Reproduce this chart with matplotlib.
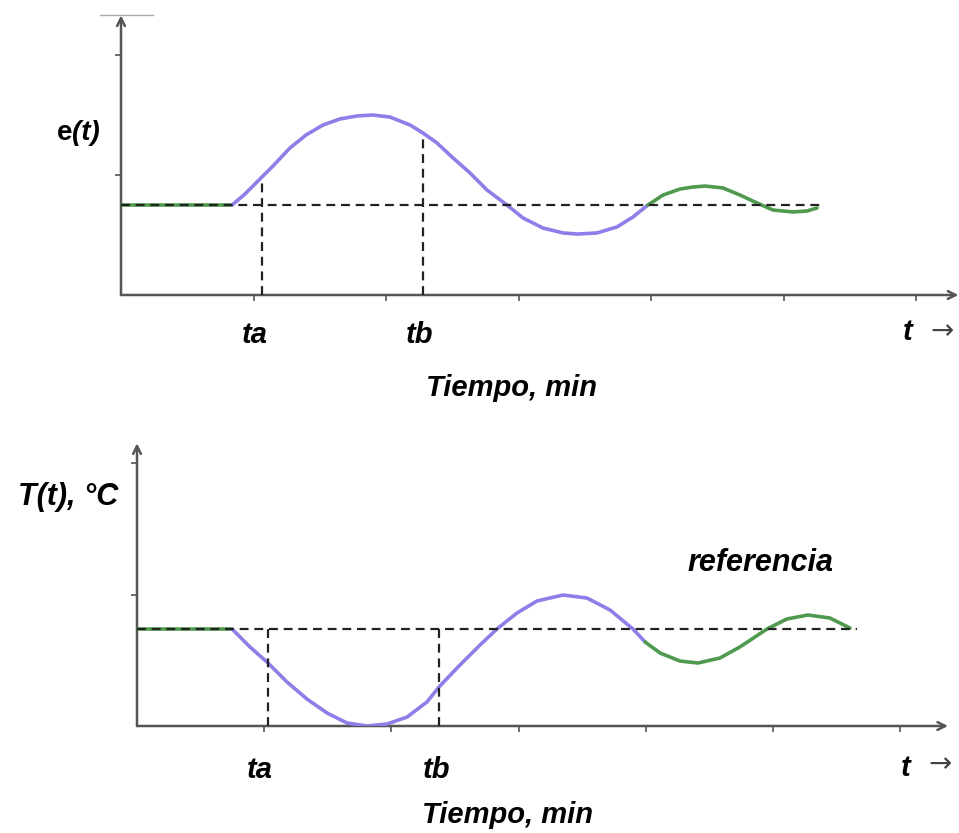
import matplotlib
matplotlib.use("Agg")
import matplotlib.pyplot as plt
from matplotlib.lines import Line2D

# --- top panel: e(t) ---
e_ref = 0.75
e_flat_x = [0.0, 0.838]
e_up_x = [0.838, 0.936, 1.026, 1.147, 1.275, 1.396, 1.525, 1.653, 1.781,
          1.902, 2.030, 2.181, 2.279, 2.385, 2.506, 2.634, 2.762, 2.913,
          3.034, 3.185, 3.336, 3.442, 3.592, 3.743, 3.864, 3.977]
e_up_y = [0.75, 0.842, 0.942, 1.075, 1.225, 1.333, 1.417, 1.467, 1.492,
          1.50, 1.483, 1.417, 1.35, 1.267, 1.142, 1.017, 0.875, 0.75,
          0.642, 0.558, 0.517, 0.508, 0.517, 0.567, 0.65, 0.75]
e_end_x = [3.977, 4.091, 4.219, 4.317, 4.408, 4.543, 4.672, 4.800, 4.921,
           5.072, 5.177, 5.253]
e_end_y = [0.75, 0.833, 0.883, 0.90, 0.908, 0.892, 0.833, 0.767, 0.708,
           0.692, 0.70, 0.725]
e_ta, e_tb = 1.064, 2.279
e_ta_y, e_tb_y = 0.975, 1.31
e_ref_end = 5.29

# --- bottom panel: T(t) ---
T_ref = 0.738
T_flat_x = [0.0, 0.747]
T_mid_x = [0.747, 0.888, 1.030, 1.179, 1.336, 1.494, 1.651, 1.808, 1.965,
           2.123, 2.280, 2.374, 2.539, 2.697, 2.830, 2.987, 3.145, 3.349,
           3.538, 3.719, 3.899, 3.994]
T_mid_y = [0.738, 0.601, 0.479, 0.335, 0.205, 0.099, 0.023, 0.0, 0.015,
           0.068, 0.183, 0.297, 0.464, 0.616, 0.738, 0.859, 0.951, 0.996,
           0.973, 0.882, 0.738, 0.639]
T_end_x = [3.994, 4.112, 4.269, 4.410, 4.583, 4.740, 4.953, 5.110, 5.275,
           5.448, 5.605]
T_end_y = [0.639, 0.555, 0.494, 0.479, 0.517, 0.601, 0.738, 0.814, 0.844,
           0.821, 0.745]
T_ta, T_tb = 1.030, 2.374
T_ref_end = 5.66

W, H = 959, 833
purple = "#8c7fe8"
green = "#4f9a4f"
axcol = "#555555"
font = dict(family="Liberation Sans", weight="bold", style="italic")


def fxy(px, py):
    return px / W, 1 - py / H


fig = plt.figure(figsize=(W / 100, H / 100), dpi=100)
ax1 = fig.add_axes([121 / W, 1 - 295 / H, 6.35 * 132.5 / W, 2.4 * 120 / H])
ax2 = fig.add_axes([137 / W, 1 - 726 / H, 6.45 * 127.2 / W, 2.2 * 131.5 / H])


def base(ax, xmax, ymax, xarrow, yarrow):
    ax.set_xlim(0, xmax)
    ax.set_ylim(0, ymax)
    for s in ax.spines.values():
        s.set_visible(False)
    ax.set_xticks(range(1, 7))
    ax.set_yticks([1, 2])
    ax.tick_params(length=4, width=1.2, color=axcol, direction="out",
                   labelbottom=False, labelleft=False)
    arrow = dict(arrowstyle="->", color=axcol, lw=1.8, shrinkA=0, shrinkB=0,
                 mutation_scale=14)
    ax.annotate("", xy=(xarrow, 0), xytext=(0, 0), arrowprops=arrow,
                annotation_clip=False)
    ax.annotate("", xy=(0, yarrow), xytext=(0, 0), arrowprops=arrow,
                annotation_clip=False)


dash = dict(color="#222222", lw=1.6, dashes=(4, 2.6), zorder=4)
curve = dict(lw=2.6, zorder=3, solid_joinstyle="round",
             solid_capstyle="round")

# top
base(ax1, 6.35, 2.4, 6.32, 2.33)
ax1.plot(e_flat_x, [e_ref, e_ref], color=green, **curve)
ax1.plot(e_up_x, e_up_y, color=purple, **curve)
ax1.plot(e_end_x, e_end_y, color=green, **curve)
ax1.plot([0, e_ref_end], [e_ref, e_ref], **dash)
ax1.plot([e_ta, e_ta], [0, e_ta_y], **dash)
ax1.plot([e_tb, e_tb], [0, e_tb_y], **dash)

# bottom
base(ax2, 6.45, 2.2, 6.376, 2.15)
ax2.plot(T_flat_x, [T_ref, T_ref], color=green, **curve)
ax2.plot(T_mid_x, T_mid_y, color=purple, **curve)
ax2.plot(T_end_x, T_end_y, color=green, **curve)
ax2.plot([0, T_ref_end], [T_ref, T_ref], **dash)
ax2.plot([T_ta, T_ta], [0, T_ref], **dash)
ax2.plot([T_tb, T_tb], [0, T_ref], **dash)

# stray grey rule at the top left
fig.add_artist(Line2D([100 / W, 153 / W], [1 - 15 / H, 1 - 15 / H],
                      color="#aaaaaa", lw=1))

# labels
fs = 21
fig.text(*fxy(72, 133), "e", fontsize=20, family="Liberation Sans",
         weight="bold", ha="right", va="center")
fig.text(*fxy(72, 133), "(t)", fontsize=20, ha="left", va="center", **font)
fig.text(*fxy(255, 335), "ta", fontsize=fs, ha="center", va="center", **font)
fig.text(*fxy(420, 335), "tb", fontsize=fs, ha="center", va="center", **font)
fig.text(*fxy(908, 332), "t", fontsize=fs, ha="center", va="center", **font)
fig.text(*fxy(942, 331), "\u2192", fontsize=20, color="#444444",
         ha="center", va="center", family="DejaVu Sans")
fig.text(*fxy(512, 388), "Tiempo, min", fontsize=fs, ha="center",
         va="center", **font)

fig.text(*fxy(68, 497), "T(t), \u00b0C", fontsize=22, ha="center",
         va="center", **font)
fig.text(*fxy(760, 563), "referencia", fontsize=22, ha="center",
         va="center", **font)
fig.text(*fxy(260, 770), "ta", fontsize=fs, ha="center", va="center", **font)
fig.text(*fxy(437, 770), "tb", fontsize=fs, ha="center", va="center", **font)
fig.text(*fxy(906, 768), "t", fontsize=fs, ha="center", va="center", **font)
fig.text(*fxy(940, 764), "\u2192", fontsize=20, color="#444444",
         ha="center", va="center", family="DejaVu Sans")
fig.text(*fxy(508, 815), "Tiempo, min", fontsize=fs, ha="center",
         va="center", **font)

fig.savefig("out.png", dpi=100)
